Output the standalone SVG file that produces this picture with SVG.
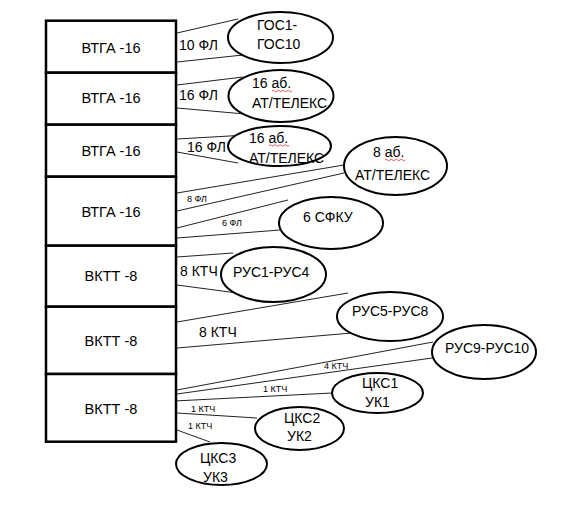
<svg xmlns="http://www.w3.org/2000/svg" width="579" height="526" viewBox="0 0 579 526">
<style>
.box{fill:#fff;stroke:#000;stroke-width:2.5}
.ell{fill:#fff;stroke:#000;stroke-width:2}
.ln{stroke:#222;stroke-width:1;fill:none}
.t{font-family:"Liberation Sans",Arial,sans-serif;font-size:14px;fill:#000}
.bt{font-family:"Liberation Sans",Arial,sans-serif;font-size:14.5px;fill:#000;text-anchor:middle}
.s{font-family:"Liberation Sans",Arial,sans-serif;font-size:9px;fill:#000}
.sq{stroke:#e03030;stroke-width:0.8;fill:none}
</style>
<rect width="579" height="526" fill="#fff"/>
<g id="connectors">
<line class="ln" x1="177" y1="33" x2="238" y2="19"/>
<line class="ln" x1="177" y1="62" x2="243" y2="55"/>
<line class="ln" x1="177" y1="85" x2="243" y2="77"/>
<line class="ln" x1="177" y1="108" x2="245" y2="114"/>
<line class="ln" x1="177" y1="139" x2="247" y2="135"/>
<line class="ln" x1="177" y1="152" x2="238" y2="163"/>
<line class="ln" x1="177" y1="193" x2="344" y2="165"/>
<line class="ln" x1="177" y1="211" x2="344" y2="173"/>
<line class="ln" x1="177" y1="228" x2="288" y2="200"/>
<line class="ln" x1="177" y1="238" x2="280" y2="230"/>
<line class="ln" x1="177" y1="257" x2="233" y2="253"/>
<line class="ln" x1="177" y1="285" x2="237" y2="293"/>
<line class="ln" x1="177" y1="322" x2="348" y2="293"/>
<line class="ln" x1="177" y1="348" x2="352" y2="333"/>
<line class="ln" x1="177" y1="390" x2="433" y2="342"/>
<line class="ln" x1="177" y1="394" x2="432" y2="358"/>
<line class="ln" x1="174" y1="401" x2="332" y2="393"/>
<line class="ln" x1="177" y1="413" x2="257" y2="418"/>
<line class="ln" x1="177" y1="430" x2="210" y2="442"/>
<text class="t" x="179" y="50">10 ФЛ</text>
<text class="t" x="179" y="100">16 ФЛ</text>
<text class="t" x="187" y="152">16 ФЛ</text>
<text class="s" x="187" y="202">8 ФЛ</text>
<text class="s" x="222" y="226">6 ФЛ</text>
<text class="t" x="180" y="276">8 КТЧ</text>
<text class="t" x="199" y="337">8 КТЧ</text>
<text class="s" x="324" y="369">4 КТЧ</text>
<text class="s" x="263" y="392">1 КТЧ</text>
<text class="s" x="191" y="412">1 КТЧ</text>
<text class="s" x="188" y="429">1 КТЧ</text>
</g>
<g id="vtga1"><rect class="box" x="46" y="20.7" width="130" height="52"/><text class="bt" x="111" y="53">ВТГА -16</text></g>
<g id="vtga2"><rect class="box" x="46" y="72.7" width="130" height="52"/><text class="bt" x="111" y="103">ВТГА -16</text></g>
<g id="vtga3"><rect class="box" x="46" y="124.7" width="130" height="52"/><text class="bt" x="111" y="156">ВТГА -16</text></g>
<g id="vtga4"><rect class="box" x="46" y="176.7" width="130" height="69"/><text class="bt" x="111" y="217">ВТГА -16</text></g>
<g id="vktt1"><rect class="box" x="46" y="245.7" width="130" height="61"/><text class="bt" x="111" y="281">ВКТТ -8</text></g>
<g id="vktt2"><rect class="box" x="46" y="306.7" width="130" height="67.3"/><text class="bt" x="111" y="346">ВКТТ -8</text></g>
<g id="vktt3"><rect class="box" x="46" y="374" width="130" height="67.7"/><text class="bt" x="111" y="414">ВКТТ -8</text></g>
<g id="gos"><ellipse class="ell" cx="280.5" cy="37.5" rx="52.5" ry="25.5"/><text class="t" x="257" y="30">ГОС1-</text><text class="t" x="257" y="49">ГОС10</text></g>
<g id="at1"><ellipse class="ell" cx="281" cy="96" rx="52.5" ry="26"/><text class="t" x="252" y="88">16 аб.</text><path class="sq" d="M272 91 q1.25 -1.5 2.5 0 t2.5 0 t2.5 0 t2.5 0 t2.5 0 t2.5 0 t2.5 0 t2.5 0"/><text class="t" x="252" y="108">АТ/ТЕЛЕКС</text></g>
<g id="at2"><ellipse class="ell" cx="279.5" cy="146" rx="51.5" ry="20"/><text class="t" x="249" y="143">16 аб.</text><path class="sq" d="M269 145.5 q1.25 -1.5 2.5 0 t2.5 0 t2.5 0 t2.5 0 t2.5 0 t2.5 0 t2.5 0 t2.5 0"/><text class="t" x="249" y="163">АТ/ТЕЛЕКС</text></g>
<g id="at3"><ellipse class="ell" cx="395.5" cy="166" rx="51.5" ry="29"/><text class="t" x="373" y="157">8 аб.</text><path class="sq" d="M385 160 q1.25 -1.5 2.5 0 t2.5 0 t2.5 0 t2.5 0 t2.5 0 t2.5 0 t2.5 0 t2.5 0"/><text class="t" x="355" y="180">АТ/ТЕЛЕКС</text></g>
<g id="sfku"><ellipse class="ell" cx="331" cy="223" rx="52" ry="26"/><text class="t" x="303" y="222">6 СФКУ</text></g>
<g id="rus1"><ellipse class="ell" cx="273.5" cy="274.5" rx="52.5" ry="27.5"/><text class="t" x="233" y="277">РУС1-РУС4</text></g>
<g id="rus5"><ellipse class="ell" cx="390" cy="316.5" rx="53" ry="24.5"/><text class="t" x="352" y="316">РУС5-РУС8</text></g>
<g id="rus9"><ellipse class="ell" cx="484" cy="352" rx="52" ry="27"/><text class="t" x="445" y="353">РУС9-РУС10</text></g>
<g id="cks1"><ellipse class="ell" cx="377.5" cy="393" rx="45.5" ry="20"/><text class="t" x="362" y="388">ЦКС1</text><text class="t" x="365" y="407">УК1</text></g>
<g id="cks2"><ellipse class="ell" cx="299.5" cy="428.5" rx="44.5" ry="21.5"/><text class="t" x="284" y="423">ЦКС2</text><text class="t" x="287" y="441">УК2</text></g>
<g id="cks3"><ellipse class="ell" cx="221.5" cy="464" rx="45.5" ry="21"/><text class="t" x="200" y="463">ЦКС3</text><text class="t" x="203" y="482">УК3</text></g>
</svg>
